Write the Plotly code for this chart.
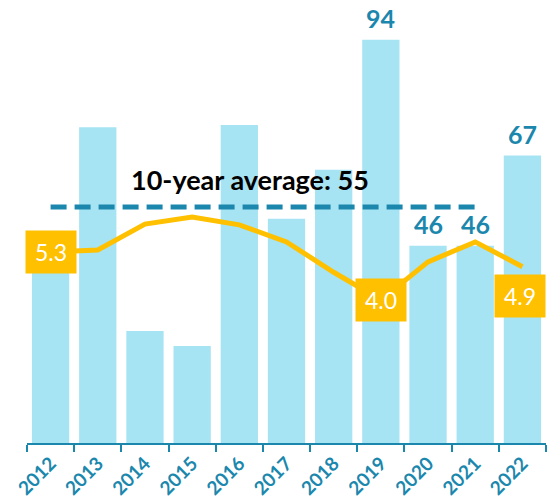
import plotly.graph_objects as go

years = ["2012", "2013", "2014", "2015", "2016", "2017", "2018", "2019", "2020", "2021", "2022"]
bar_values = [47, 73.6, 26.1, 22.6, 74.1, 52.3, 63.7, 94, 46, 46, 67]
line_values = [5.3, 5.35, 6.05, 6.24, 6.03, 5.57, 4.75, 4.0, 5.03, 5.57, 4.9]
average_value = 55
average_years = years[:10]

bar_label_years = ["2019", "2020", "2021", "2022"]
line_label_years = ["2012", "2019", "2022"]

TEAL = "#1B87AD"
GOLD = "#FFC000"
FONT = "Lato"

fig = go.Figure()

fig.add_trace(go.Bar(
    x=years, y=bar_values,
    marker=dict(color="#A6E3F3", line=dict(width=0)),
    hoverinfo="skip",
))

fig.add_trace(go.Scatter(
    x=average_years, y=[average_value] * len(average_years),
    mode="lines",
    line=dict(color=TEAL, width=5, dash="16px,8px"),
    hoverinfo="skip",
))

fig.add_trace(go.Scatter(
    x=years, y=line_values,
    mode="lines",
    line=dict(color=GOLD, width=5),
    yaxis="y2",
    hoverinfo="skip",
))

# annotations on a category axis take the category index, not the name
annotations = []
for yr in bar_label_years:
    i = years.index(yr)
    annotations.append(dict(
        x=i, y=bar_values[i], xref="x", yref="y",
        text="<b>%d</b>" % round(bar_values[i]),
        showarrow=False, yanchor="bottom", yshift=5,
        font=dict(family=FONT, size=25, color=TEAL),
    ))

for yr in line_label_years:
    i = years.index(yr)
    shift = -29 if yr == "2022" else 0
    xs = -2 if yr == "2022" else 0
    annotations.append(dict(
        x=i, y=line_values[i], xref="x", yref="y2",
        text="%.1f" % line_values[i],
        showarrow=False, yshift=shift, xshift=xs,
        bgcolor=GOLD, borderpad=8, width=34, height=26,
        font=dict(family=FONT, size=23, color="white"),
    ))

annotations.append(dict(
    x=0.43, y=61.5, xref="paper", yref="y",
    text="<b>10-year average: %d</b>" % average_value,
    showarrow=False,
    font=dict(family=FONT, size=27, color="black"),
))

fig.update_layout(
    width=551, height=504,
    margin=dict(l=27, r=5, t=14, b=61),
    paper_bgcolor="white", plot_bgcolor="white",
    showlegend=False,
    bargap=0.21,
    annotations=annotations,
    xaxis=dict(
        type="category", range=[-0.5, 10.5], automargin=False,
        showline=True, linecolor=TEAL, linewidth=2,
        ticks="outside", tickson="boundaries", ticklen=7, tickwidth=1.5, tickcolor=TEAL,
        tickangle=-45,
        tickfont=dict(family=FONT, size=19, color=TEAL, weight="bold"),
        showgrid=False, zeroline=False,
    ),
    yaxis=dict(range=[0, 100], visible=False, showgrid=False, zeroline=False,
               automargin=False),
    yaxis2=dict(range=[0.135, 11.73], overlaying="y", visible=False,
                showgrid=False, zeroline=False, automargin=False),
)

# the default page has an 8px body margin; drop it so the figure sits at 0,0
fig.write_html("out.html", config={"displayModeBar": False},
               post_script="document.body.style.margin='0';")
